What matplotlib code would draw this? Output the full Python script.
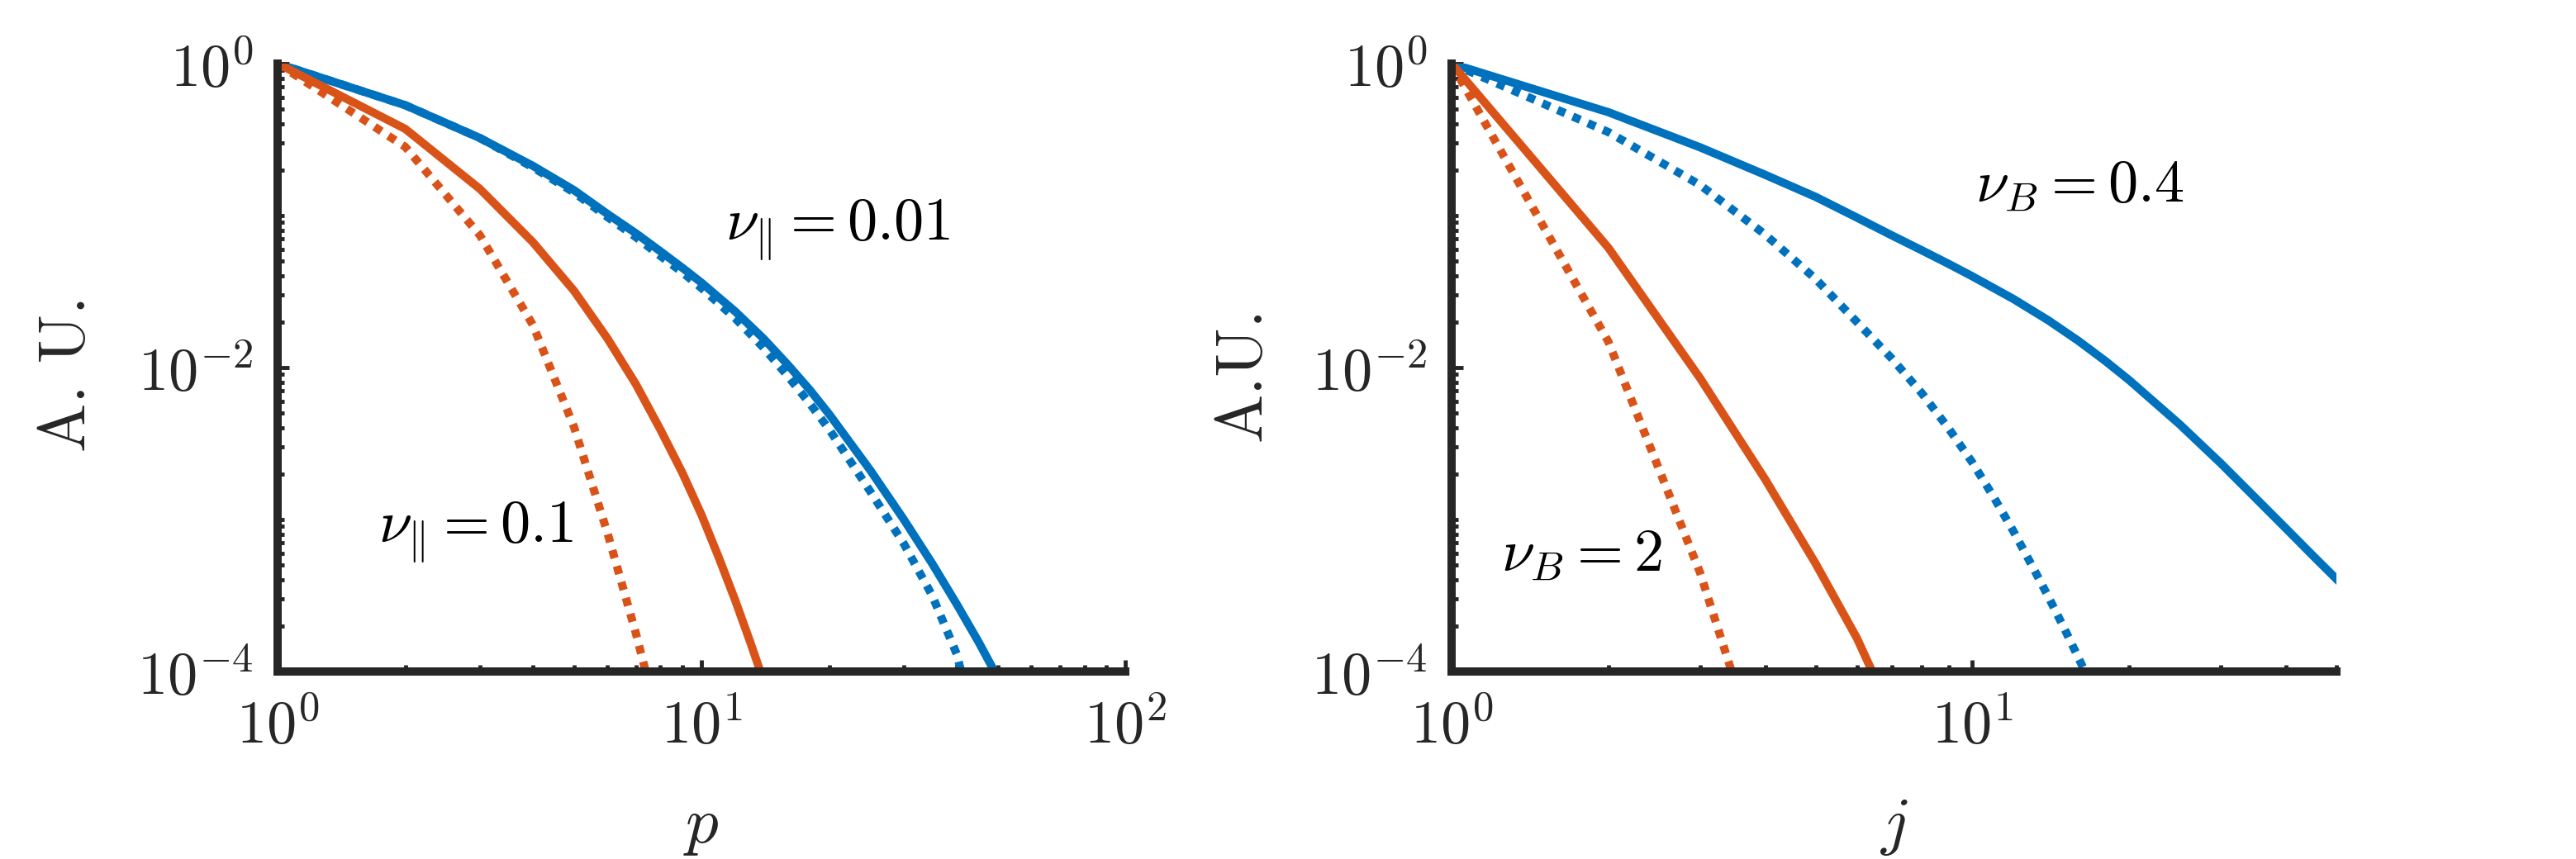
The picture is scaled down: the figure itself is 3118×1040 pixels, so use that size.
import numpy as np
import matplotlib
matplotlib.use("Agg")
import matplotlib.pyplot as plt
from matplotlib.ticker import LogLocator, NullFormatter

# ---------------------------------------------------------
# Global config
# ---------------------------------------------------------
plt.rcParams["mathtext.fontset"] = "cm"
plt.rcParams["font.family"] = ["DejaVu Serif"]

BLUE = "#0072BD"     # MATLAB default blue
ORANGE = "#D95319"   # MATLAB default orange
AXIS_COLOR = "#262626"
LW = 7.2
DOTTED = (0, (1.0, 1.0))
TICK_FS = 52
LABEL_FS = 57

# ---------------------------------------------------------
# Data, left panel (x = p)
# ---------------------------------------------------------
p_blue = [1, 2, 3, 4, 5, 6, 7, 8, 9, 10, 12, 14, 16, 18, 20, 25, 30, 35, 40, 45, 50]
blue_solid_left = [1.0, 0.532, 0.3236, 0.2123, 0.1469, 0.1023, 0.0764, 0.0581, 0.0454,
                   0.0361, 0.0234, 0.0155, 0.01038, 0.00713, 0.00493, 0.00211, 0.00100,
                   5.13e-4, 2.77e-4, 1.57e-4, 9.1e-5]
p_blue_dot = [1, 2, 3, 4, 5, 6, 7, 8, 9, 10, 12, 14, 16, 18, 20, 25, 30, 35, 40, 45]
blue_dotted_left = [1.0, 0.532, 0.3236, 0.2075, 0.1419, 0.0977, 0.0721, 0.0542, 0.0424,
                    0.0333, 0.0211, 0.0135, 0.00873, 0.00579, 0.00392, 0.00153, 6.93e-4,
                    3.16e-4, 1.30e-4, 3.5e-5]
p_red = [1, 2, 3, 4, 5, 6, 7, 8, 9, 10, 11, 12, 13, 14]
red_solid_left = [1.0, 0.3715, 0.1496, 0.0668, 0.0320, 0.0155, 0.00776, 0.00389, 0.00204,
                  0.00107, 5.55e-4, 2.95e-4, 1.585e-4, 8.7e-5]
p_red_dot = [1, 2, 3, 4, 5, 6, 7, 8]
red_dotted_left = [1.0, 0.283, 0.0741, 0.01905, 0.00407, 8.13e-4, 1.78e-4, 4.17e-5]

# ---------------------------------------------------------
# Data, right panel (x = j)
# ---------------------------------------------------------
j_blue = [1, 2, 3, 4, 5, 6, 7, 8, 9, 10, 12, 14, 16, 18, 20, 25, 30, 35, 40, 45, 50]
blue_solid_right = [1.0, 0.4786, 0.2812, 0.1854, 0.1327, 0.0970, 0.0741, 0.0590, 0.0481,
                    0.0398, 0.0282, 0.0204, 0.01493, 0.01104, 0.00826, 0.00423, 0.00234,
                    0.00138, 8.73e-4, 5.81e-4, 4.06e-4]
j_blue_dot = [1, 2, 3, 4, 5, 6, 7, 8, 9, 10, 11, 12, 13, 14, 15, 16, 17]
blue_dotted_right = [1.0, 0.354, 0.1589, 0.0750, 0.0383, 0.01995, 0.01148, 0.00676, 0.00398,
                     0.00237, 0.001396, 8.32e-4, 5.01e-4, 3.09e-4, 1.93e-4, 1.22e-4, 7.83e-5]
j_red = [1, 2, 3, 4, 5, 6, 7]
red_solid_right = [1.0, 0.0614, 0.00851, 0.00184, 5.13e-4, 1.66e-4, 5.25e-5]
j_red_dot = [1, 2, 3, 4]
red_dotted_right = [1.0, 0.01479, 4.47e-4, 2.04e-5]

# ---------------------------------------------------------
# Axis ticks and labels
# ---------------------------------------------------------
y_major = [1e-4, 1e-2, 1e0]
y_major_labels = [r"$10^{-4}$", r"$10^{-2}$", r"$10^{0}$"]
x_major_left = [1, 10, 100]
x_major_left_labels = [r"$10^{0}$", r"$10^{1}$", r"$10^{2}$"]
x_major_right = [1, 10]
x_major_right_labels = [r"$10^{0}$", r"$10^{1}$"]


def style_axes(ax, xmax, xticks, xticklabels, xlabel, ylabel, ylabel_x):
    ax.set_xscale("log")
    ax.set_yscale("log")
    ax.set_xlim(1, xmax)
    ax.set_ylim(1e-4, 1)

    ax.set_xticks(xticks, labels=xticklabels)
    ax.xaxis.set_minor_locator(LogLocator(base=10, subs=np.arange(2, 10), numticks=50))
    ax.xaxis.set_minor_formatter(NullFormatter())
    ax.set_yticks(y_major, labels=y_major_labels)
    ax.yaxis.set_minor_locator(LogLocator(base=10, subs=np.arange(1, 10), numticks=50))
    ax.yaxis.set_minor_formatter(NullFormatter())

    for side in ["top", "right"]:
        ax.spines[side].set_visible(False)
    for side in ["left", "bottom"]:
        ax.spines[side].set_linewidth(LW)
        ax.spines[side].set_color(AXIS_COLOR)

    ax.tick_params(which="major", direction="in", length=10, width=3.5,
                   color=AXIS_COLOR, labelsize=TICK_FS, labelcolor=AXIS_COLOR)
    ax.tick_params(which="minor", direction="in", length=5.5, width=3.5, color=AXIS_COLOR)
    ax.tick_params(axis="y", which="major", pad=21)
    ax.tick_params(axis="x", which="major", pad=23)

    ax.set_xlabel(xlabel, fontsize=LABEL_FS, color=AXIS_COLOR)
    ax.xaxis.set_label_coords(0.5, -0.254)
    ax.xaxis.label.set_verticalalignment("center")
    ax.set_ylabel(ylabel, fontsize=LABEL_FS, color=AXIS_COLOR, fontfamily="cmr10")
    ax.yaxis.set_label_coords(ylabel_x, 0.49)
    ax.yaxis.label.set_verticalalignment("center")


fig = plt.figure(figsize=(31.18, 10.40), dpi=100)
ax1 = fig.add_axes([0.1078, 0.2183, 0.3291, 0.7077])
ax2 = fig.add_axes([0.5635, 0.2183, 0.3435, 0.7077])

# left panel
ax1.plot(p_blue_dot, blue_dotted_left, color=BLUE, lw=LW, linestyle=DOTTED, dash_capstyle="butt")
ax1.plot(p_blue, blue_solid_left, color=BLUE, lw=LW)
ax1.plot(p_red_dot, red_dotted_left, color=ORANGE, lw=LW, linestyle=DOTTED, dash_capstyle="butt")
ax1.plot(p_red, red_solid_left, color=ORANGE, lw=LW)
style_axes(ax1, 100, x_major_left, x_major_left_labels, r"$p$", "A. U.", -0.2466)
ax1.text(11.39, 0.0687, r"$\nu_{\Vert} = 0.01$", fontsize=TICK_FS, ha="left", va="baseline")
ax1.text(1.729, 7.05e-4, r"$\nu_{\Vert} = 0.1$", fontsize=TICK_FS, ha="left", va="baseline")

# right panel
ax2.plot(j_blue_dot, blue_dotted_right, color=BLUE, lw=LW, linestyle=DOTTED, dash_capstyle="butt")
ax2.plot(j_blue, blue_solid_right, color=BLUE, lw=LW)
ax2.plot(j_red_dot, red_dotted_right, color=ORANGE, lw=LW, linestyle=DOTTED, dash_capstyle="butt")
ax2.plot(j_red, red_solid_right, color=ORANGE, lw=LW)
style_axes(ax2, 50, x_major_right, x_major_right_labels, r"$j$", "A.U.", -0.2344)
ax2.text(10.15, 0.1245, r"$\nu_B = 0.4$", fontsize=TICK_FS, ha="left", va="baseline")
ax2.text(1.244, 4.63e-4, r"$\nu_B = 2$", fontsize=TICK_FS, ha="left", va="baseline")

fig.savefig("out.png", dpi=100, facecolor="white")
